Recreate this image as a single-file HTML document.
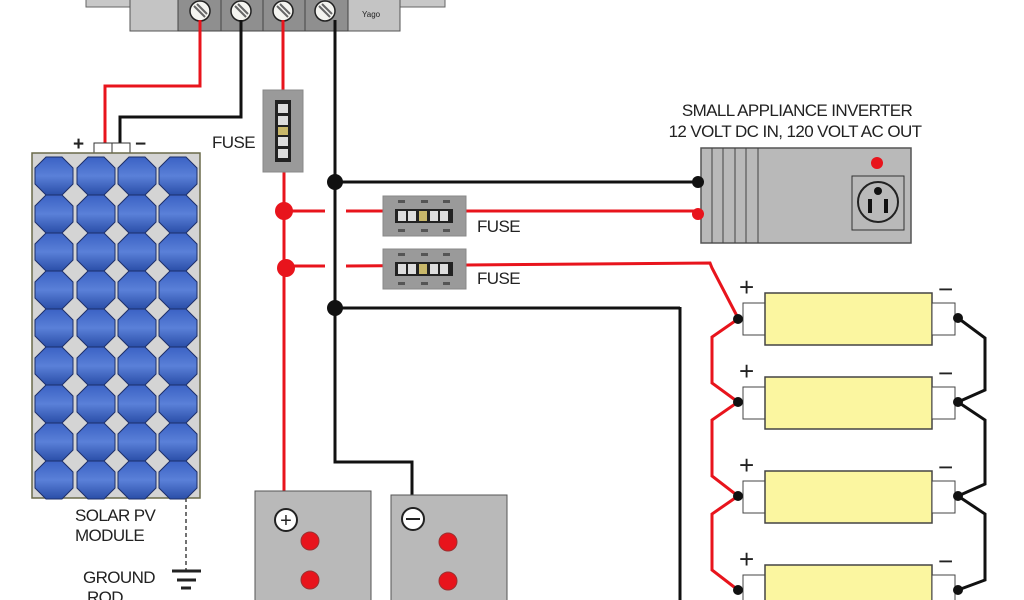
<!DOCTYPE html>
<html><head><meta charset="utf-8"><style>
html,body{margin:0;padding:0;background:#fff;width:1024px;height:600px;overflow:hidden}
text{font-family:"Liberation Sans",sans-serif;fill:#222}
.lb{font-size:17px;letter-spacing:-0.6px}
</style></head><body>
<svg width="1024" height="600" viewBox="0 0 1024 600" xmlns="http://www.w3.org/2000/svg">
<defs>
<linearGradient id="cell" x1="0" y1="0" x2="0" y2="1">
<stop offset="0" stop-color="#3b62c4"/><stop offset="0.5" stop-color="#5a80d8"/><stop offset="1" stop-color="#2a4ea8"/>
</linearGradient>
<g id="oct"><polygon points="11,0 27,0 38,11 38,27 27,38 11,38 0,27 0,11" fill="url(#cell)" stroke="#1d2f6a" stroke-width="1"/></g>
<g id="fuseH">
<rect x="0" y="0" width="83" height="40" fill="#9a9a9a" stroke="#888"/>
<rect x="12" y="13" width="58" height="14" fill="#222"/>
<rect x="15" y="15" width="8" height="10" fill="#ddd"/><rect x="25" y="15" width="8" height="10" fill="#ddd"/>
<rect x="36" y="15" width="8" height="10" fill="#c9b86a"/>
<rect x="47" y="15" width="8" height="10" fill="#ddd"/><rect x="57" y="15" width="8" height="10" fill="#ddd"/>
<rect x="15" y="4" width="7" height="3" fill="#555"/><rect x="38" y="4" width="7" height="3" fill="#555"/><rect x="60" y="4" width="7" height="3" fill="#555"/>
<rect x="15" y="33" width="7" height="3" fill="#555"/><rect x="38" y="33" width="7" height="3" fill="#555"/><rect x="60" y="33" width="7" height="3" fill="#555"/>
</g>
<g id="batt">
<rect x="-29" y="-16" width="22" height="32" fill="#fff" stroke="#444"/>
<rect x="-7" y="-26" width="167" height="52" fill="#fbf6a0" stroke="#444" stroke-width="1.5"/>
<rect x="160" y="-16" width="23" height="32" fill="#fff" stroke="#444"/>
</g>
</defs>

<!-- controller -->
<rect x="86" y="-2" width="359" height="9" fill="#c8c8c8" stroke="#666"/>
<rect x="130" y="-2" width="270" height="33" fill="#c4c4c4" stroke="#555"/>
<rect x="178" y="-2" width="170" height="33" fill="#8f8f8f" stroke="#444"/>
<line x1="221" y1="0" x2="221" y2="31" stroke="#444"/><line x1="263" y1="0" x2="263" y2="31" stroke="#444"/><line x1="305" y1="0" x2="305" y2="31" stroke="#444"/>
<g stroke="#222" stroke-width="1.5" fill="#f4f4f0">
<circle cx="200" cy="11" r="10"/><circle cx="241" cy="11" r="10"/><circle cx="283" cy="11" r="10"/><circle cx="325" cy="11" r="10"/>
</g>
<g stroke="#666" stroke-width="2">
<line x1="194" y1="6" x2="205" y2="17"/><line x1="197" y1="4" x2="207" y2="14"/>
<line x1="235" y1="6" x2="246" y2="17"/><line x1="238" y1="4" x2="248" y2="14"/>
<line x1="277" y1="6" x2="288" y2="17"/><line x1="280" y1="4" x2="290" y2="14"/>
<line x1="319" y1="6" x2="330" y2="17"/><line x1="322" y1="4" x2="332" y2="14"/>
</g>
<text x="362" y="17" font-size="8">Yago</text>

<!-- wires from controller -->
<polyline points="200,20 200,86 105,86 105,150" fill="none" stroke="#e8141c" stroke-width="3"/>
<polyline points="241,20 241,117 120,117 120,150" fill="none" stroke="#111" stroke-width="3"/>
<line x1="283" y1="20" x2="283" y2="95" stroke="#e8141c" stroke-width="3"/>
<line x1="284" y1="165" x2="284" y2="515" stroke="#e8141c" stroke-width="3"/>
<polyline points="335,20 335,462 412,462 412,508" fill="none" stroke="#111" stroke-width="3"/>

<!-- vertical fuse -->
<rect x="263" y="90" width="40" height="82" fill="#9a9a9a" stroke="#888"/>
<rect x="275" y="100" width="16" height="62" fill="#222"/>
<rect x="278" y="104" width="10" height="9" fill="#ddd"/><rect x="278" y="116" width="10" height="9" fill="#ddd"/>
<rect x="278" y="127" width="10" height="8" fill="#c9b86a"/>
<rect x="278" y="137" width="10" height="9" fill="#ddd"/><rect x="278" y="149" width="10" height="9" fill="#ddd"/>
<text x="212" y="148" class="lb">FUSE</text>

<!-- branch lines -->
<line x1="335" y1="182" x2="697" y2="182" stroke="#111" stroke-width="3"/>
<line x1="335" y1="308" x2="680" y2="308" stroke="#111" stroke-width="3"/>
<line x1="680" y1="307" x2="680" y2="600" stroke="#111" stroke-width="3"/>
<line x1="284" y1="211" x2="325" y2="211" stroke="#e8141c" stroke-width="3"/>
<line x1="346" y1="211" x2="697" y2="211" stroke="#e8141c" stroke-width="3"/>
<line x1="286" y1="266" x2="325" y2="266" stroke="#e8141c" stroke-width="3"/>
<polyline points="346,266 710,263 712,268 738,318" fill="none" stroke="#e8141c" stroke-width="3"/>
<use href="#fuseH" x="383" y="196"/>
<use href="#fuseH" x="383" y="249"/>
<text x="477" y="232" class="lb">FUSE</text>
<text x="477" y="284" class="lb">FUSE</text>
<circle cx="335" cy="182" r="8" fill="#111"/>
<circle cx="335" cy="308" r="8" fill="#111"/>
<circle cx="284" cy="211" r="9" fill="#e8141c"/>
<circle cx="286" cy="268" r="9" fill="#e8141c"/>

<!-- inverter -->
<text x="797" y="116" class="lb" text-anchor="middle">SMALL APPLIANCE INVERTER</text>
<text x="795" y="137" class="lb" text-anchor="middle">12 VOLT DC IN,  120 VOLT AC OUT</text>
<rect x="701" y="148" width="210" height="95" fill="#b9b9b9" stroke="#555" stroke-width="1.5"/>
<g stroke="#444" stroke-width="1"><line x1="712" y1="148" x2="712" y2="243"/><line x1="723" y1="148" x2="723" y2="243"/><line x1="735" y1="148" x2="735" y2="243"/><line x1="746" y1="148" x2="746" y2="243"/><line x1="758" y1="148" x2="758" y2="243"/></g>
<circle cx="877" cy="163" r="6" fill="#e8141c"/>
<rect x="852" y="176" width="52" height="54" fill="#b9b9b9" stroke="#333"/>
<circle cx="878" cy="202" r="20" fill="none" stroke="#222" stroke-width="2"/>
<circle cx="878" cy="191" r="4" fill="#111"/>
<rect x="868" y="199" width="4" height="14" fill="#111"/><rect x="884" y="199" width="4" height="14" fill="#111"/>
<circle cx="698" cy="182" r="6" fill="#111"/>
<circle cx="698" cy="214" r="6" fill="#e8141c"/>

<!-- battery bank right -->
<use href="#batt" x="772" y="319"/>
<use href="#batt" x="772" y="403"/>
<use href="#batt" x="772" y="497"/>
<use href="#batt" x="772" y="591"/>
<polyline points="738,319 712,337 712,383 738,402 712,420 712,476 738,496 712,514 712,570 738,590" fill="none" stroke="#e8141c" stroke-width="3"/>
<polyline points="958,318 985,338 985,390 958,402 985,420 985,484 958,496 985,514 985,580 958,590" fill="none" stroke="#111" stroke-width="3"/>
<g fill="#111"><circle cx="738" cy="319" r="5"/><circle cx="738" cy="402" r="5"/><circle cx="738" cy="496" r="5"/><circle cx="738" cy="590" r="5"/>
<circle cx="958" cy="318" r="5"/><circle cx="958" cy="402" r="5"/><circle cx="958" cy="496" r="5"/><circle cx="958" cy="590" r="5"/></g>
<g font-size="26"><text x="739" y="296">+</text><text x="739" y="380">+</text><text x="739" y="474">+</text><text x="739" y="568">+</text>
<text x="938" y="298">−</text><text x="938" y="382">−</text><text x="938" y="476">−</text><text x="938" y="570">−</text></g>

<!-- solar panel -->
<text x="73" y="150" font-size="19" font-weight="bold">+</text>
<text x="135" y="150" font-size="19" font-weight="bold">−</text>
<rect x="94" y="143" width="36" height="10" fill="#fff" stroke="#333"/>
<line x1="112" y1="143" x2="112" y2="153" stroke="#333"/>
<rect x="32" y="153" width="168" height="345" fill="#d4d4d4" stroke="#6a6a4a" stroke-width="1.5"/>
<g id="col">
<use href="#oct" x="35" y="157"/><use href="#oct" x="35" y="195"/><use href="#oct" x="35" y="233"/><use href="#oct" x="35" y="271"/><use href="#oct" x="35" y="309"/><use href="#oct" x="35" y="347"/><use href="#oct" x="35" y="385"/><use href="#oct" x="35" y="423"/><use href="#oct" x="35" y="461"/>
</g>
<use href="#col" x="42"/><use href="#col" x="83"/><use href="#col" x="124"/>
<text x="75" y="521" class="lb">SOLAR PV</text>
<text x="75" y="541" class="lb">MODULE</text>
<line x1="186" y1="498" x2="186" y2="570" stroke="#444" stroke-width="1.5" stroke-dasharray="4,3"/>
<line x1="172" y1="571" x2="201" y2="571" stroke="#222" stroke-width="3"/>
<line x1="177" y1="580" x2="196" y2="580" stroke="#222" stroke-width="3"/>
<line x1="181" y1="588" x2="191" y2="588" stroke="#222" stroke-width="3"/>
<text x="83" y="583" class="lb">GROUND</text>
<text x="87" y="603" class="lb">ROD</text>

<!-- lower batteries -->
<rect x="255" y="491" width="116" height="115" fill="#b9b9b9" stroke="#555"/>
<rect x="391" y="495" width="116" height="111" fill="#b9b9b9" stroke="#555"/>
<circle cx="286" cy="520" r="11" fill="#fff" stroke="#222" stroke-width="2"/>
<text x="286" y="527" font-size="20" text-anchor="middle">+</text>
<circle cx="413" cy="519" r="11" fill="#fff" stroke="#222" stroke-width="2"/>
<line x1="406" y1="519" x2="420" y2="519" stroke="#222" stroke-width="2"/>
<g fill="#e8141c" stroke="#933"><circle cx="310" cy="541" r="9"/><circle cx="310" cy="580" r="9"/><circle cx="448" cy="542" r="9"/><circle cx="448" cy="581" r="9"/></g>
</svg>
</body></html>
